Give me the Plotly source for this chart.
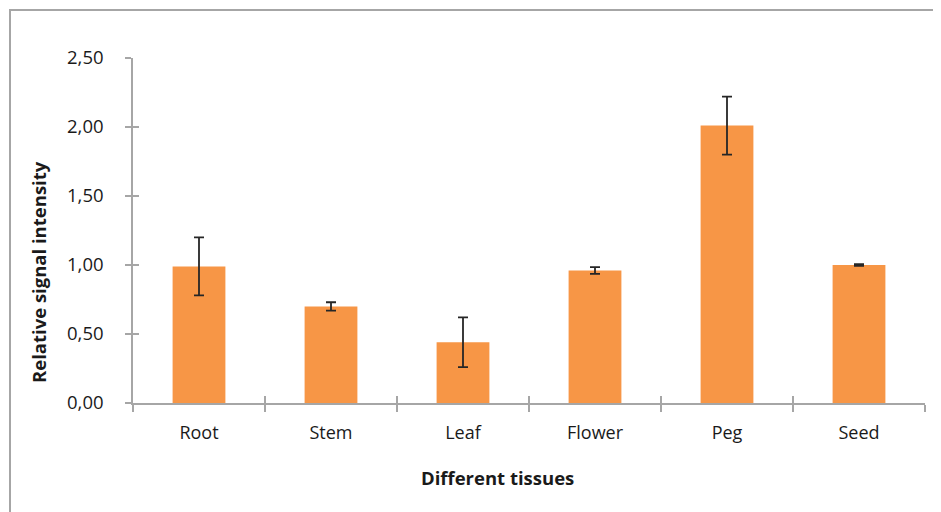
import plotly.graph_objects as go

categories = ["Root", "Stem", "Leaf", "Flower", "Peg", "Seed"]
values = [0.99, 0.70, 0.44, 0.96, 2.01, 1.00]
errors = [0.21, 0.03, 0.18, 0.025, 0.21, 0.006]
y_ticks = [0, 0.5, 1.0, 1.5, 2.0, 2.5]

BAR = "#F79646"
AX = "#A6A6A6"
FONT = "Open Sans, Lato, sans-serif"
TXT = "#1a1a1a"

OFF = 8  # page body margin
W, H = 941 - OFF, 512 - OFF
L, T = 133 - OFF, 58 - OFF
R = W - (925 - OFF)
B = H - (403 - OFF)
pw, ph = W - L - R, H - T - B

def px(x):
    return (x - OFF - L) / pw

def py(y):
    return (H - B - (y - OFF)) / ph

fig = go.Figure()
fig.add_trace(go.Bar(
    x=categories, y=values, width=0.4,
    marker=dict(color=BAR, line=dict(width=0)),
    error_y=dict(type="data", array=errors, visible=True,
                 color="#262626", thickness=1.8, width=5),
    hoverinfo="skip",
))
# invisible duplicate to drive the inner-tick overlay axes
fig.add_trace(go.Bar(
    x=categories, y=values, width=0.4, opacity=0,
    xaxis="x2", yaxis="y2", hoverinfo="skip", showlegend=False,
))

common_y = dict(range=[0, 2.5], tickvals=y_ticks, showgrid=False, zeroline=False)
common_x = dict(type="category", tickson="boundaries", showgrid=False, zeroline=False)

fig.update_layout(
    width=W, height=H,
    margin=dict(l=L, r=R, t=T, b=B),
    paper_bgcolor="white", plot_bgcolor="white",
    separators=",.",
    showlegend=False,
    font=dict(family=FONT, color=TXT, size=18),
    xaxis=dict(**common_x, showline=True, linecolor=AX, linewidth=1.5,
               ticks="outside", ticklen=7, tickwidth=1.5, tickcolor=AX,
               ticklabelstandoff=13, tickfont=dict(size=18, color=TXT)),
    yaxis=dict(**common_y, showline=True, linecolor=AX, linewidth=1.5,
               ticks="outside", ticklen=6, tickwidth=1.5, tickcolor=AX,
               tickformat=".2f", ticklabelstandoff=18,
               tickfont=dict(size=18.5, color=TXT)),
    xaxis2=dict(**common_x, overlaying="x", showline=False, ticks="inside",
                ticklen=7, tickwidth=1.5, tickcolor=AX, showticklabels=False),
    yaxis2=dict(**common_y, overlaying="y", showline=False, ticks="inside",
                ticklen=6, tickwidth=1.5, tickcolor=AX, showticklabels=False),
    annotations=[
        dict(text="<b>Different tissues</b>", xref="paper", yref="paper",
             x=px(497), y=py(477), showarrow=False, font=dict(size=18.5, color=TXT),
             xanchor="center", yanchor="middle"),
        dict(text="<b>Relative signal intensity</b>", xref="paper", yref="paper",
             x=px(38), y=py(272), showarrow=False, textangle=-90,
             font=dict(size=18.5, color=TXT), xanchor="center", yanchor="middle"),
    ],
    shapes=[dict(type="rect", xref="paper", yref="paper",
                 x0=px(10), x1=px(960), y0=py(530), y1=py(10),
                 line=dict(color=AX, width=2), layer="below")],
)

fig.write_html("out.html")
